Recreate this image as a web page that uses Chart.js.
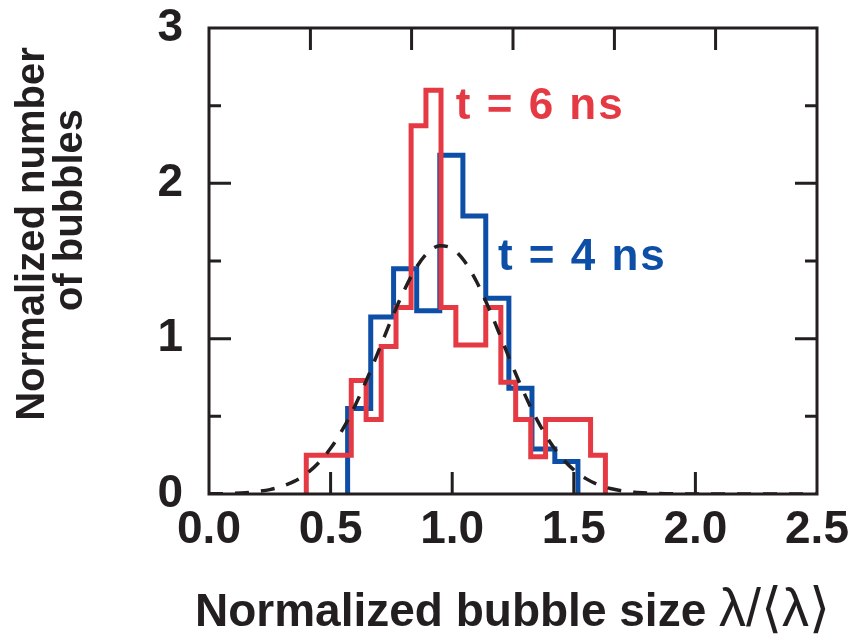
<!DOCTYPE html>
<html>
<head>
<meta charset="utf-8">
<script src="https://cdn.jsdelivr.net/npm/chart.js@4/dist/chart.umd.min.js"></script>
<style>
  html,body{margin:0;padding:0;background:#fff;}
  #wrap{width:865px;height:641px;}
</style>
</head>
<body>
<div id="wrap"><canvas id="bubbles"></canvas></div>
<script>
// histogram at t = 6 ns (bin edges and heights)
const redEdges=[0.400,0.462,0.523,0.585,0.646,0.708,0.769,0.831,0.892,0.954,1.015,1.077,1.138,1.200,1.261,1.323,1.384,1.446,1.507,1.569,1.630];
const redCounts=[0.25,0.25,0.25,0.73,0.48,0.95,1.20,2.37,2.60,1.20,0.96,0.96,1.20,0.72,0.48,0.24,0.48,0.48,0.48,0.25];
// histogram at t = 4 ns
const blueEdges=[0.570,0.665,0.759,0.854,0.949,1.044,1.138,1.233,1.328,1.422,1.517];
const blueCounts=[0.55,1.14,1.45,1.18,2.18,1.79,1.26,0.68,0.29,0.21];
// dashed fit curve
const fitX=[0.00,0.05,0.10,0.15,0.20,0.25,0.30,0.35,0.40,0.45,0.50,0.55,0.60,0.65,0.70,0.75,0.80,0.85,0.90,0.95,
  1.00,1.05,1.10,1.15,1.20,1.25,1.30,1.35,1.40,1.45,1.50,1.55,1.60,1.65,1.70,1.75,1.80,1.85,1.90,2.00,2.10,2.20,2.30,2.40,2.50];
const fitY=[0.001,0.002,0.004,0.008,0.016,0.028,0.049,0.081,0.130,0.200,0.294,0.417,0.567,0.742,0.931,1.124,1.303,1.452,1.555,1.598,
  1.580,1.500,1.368,1.198,1.009,0.816,0.635,0.474,0.340,0.234,0.155,0.099,0.060,0.035,0.020,0.011,0.006,0.003,0.001,0,0,0,0,0,0];
const xTicks=[0.0,0.5,1.0,1.5,2.0,2.5];
const topTicks=[0.417,0.833,1.250,1.667,2.083];
const yTicks=[0,1,2,3];
const yMinor=[0.5,1.5,2.5];
const labels=['t = 6 ns','t = 4 ns'];

const ink='#231f20', red='#e53a43', blue='#0d4fa6';
const sans='"Liberation Sans", Arial, sans-serif';

// turn edges + heights into a closed step outline
function outline(edges,counts){
  let pts=[{x:edges[0],y:0}];
  for(let i=0;i<counts.length;i++) pts.push({x:edges[i],y:counts[i]});
  pts.push({x:edges[edges.length-1],y:counts[counts.length-1]});
  pts.push({x:edges[edges.length-1],y:0});
  return pts;
}

// frame, inward ticks, titles and the two time labels
const frame={
  id:'frame',
  afterDatasetsDraw(chart){
    const c=chart.ctx, a=chart.chartArea, x=chart.scales.x, y=chart.scales.y;
    c.save();
    c.strokeStyle=ink; c.lineWidth=3; c.lineCap='butt';
    c.strokeRect(a.left,a.top,a.right-a.left,a.bottom-a.top);
    c.beginPath();
    xTicks.slice(1,-1).forEach(v=>{
      const px=x.getPixelForValue(v);
      c.moveTo(px,a.bottom); c.lineTo(px,a.bottom-22);
    });
    topTicks.forEach(v=>{
      const px=x.getPixelForValue(v);
      c.moveTo(px,a.top); c.lineTo(px,a.top+22);
    });
    yTicks.slice(1,-1).concat(yMinor).forEach(v=>{
      const py=y.getPixelForValue(v);
      const len=Number.isInteger(v)?22:12;
      c.moveTo(a.left,py); c.lineTo(a.left+len,py);
      c.moveTo(a.right,py); c.lineTo(a.right-len,py);
    });
    c.stroke();

    // time labels
    c.font='bold 44px '+sans;
    c.letterSpacing='2px';
    c.textBaseline='middle'; c.textAlign='left';
    c.fillStyle=red;
    c.fillText(labels[0],x.getPixelForValue(1.015),y.getPixelForValue(2.49));
    c.fillStyle=blue;
    c.fillText(labels[1],x.getPixelForValue(1.188),y.getPixelForValue(1.52));
    c.letterSpacing='0px';

    // x title: bold words, plain symbols
    c.fillStyle=ink;
    c.textBaseline='alphabetic';
    c.font='bold 46px '+sans;
    const words='Normalized bubble size ';
    c.fillText(words,195,626);
    const w=c.measureText(words).width;
    c.font='54px '+sans;
    c.fillText('λ/⟨λ⟩',195+w,626);

    // y title, two lines
    c.font='bold 40px '+sans;
    c.textAlign='center';
    c.save(); c.translate(44,234); c.rotate(-Math.PI/2); c.fillText('Normalized number',0,0); c.restore();
    c.save(); c.translate(82,210); c.rotate(-Math.PI/2); c.fillText('of bubbles',0,0); c.restore();
    c.restore();
  }
};

const font={family:sans,weight:'bold'};
// keep the tick labels from pushing the plot box around
function noPad(s){s.paddingTop=0;s.paddingBottom=0;s.paddingLeft=0;s.paddingRight=0;}

new Chart(document.getElementById('bubbles'),{
  type:'line',
  data:{datasets:[
    {data:fitX.map((v,i)=>({x:v,y:fitY[i]})),borderColor:ink,borderWidth:3.5,borderDash:[14,12],pointRadius:0,cubicInterpolationMode:'monotone',order:0},
    {data:outline(redEdges,redCounts),stepped:'before',borderColor:red,borderWidth:5,pointRadius:0,order:1},
    {data:outline(blueEdges,blueCounts),stepped:'before',borderColor:blue,borderWidth:5,pointRadius:0,order:2}
  ]},
  options:{
    responsive:true,maintainAspectRatio:false,animation:false,
    layout:{autoPadding:false,padding:{top:28,right:48,left:0,bottom:0}},
    plugins:{legend:{display:false},tooltip:{enabled:false}},
    scales:{
      x:{type:'linear',min:0,max:2.5,
        grid:{display:false,drawTicks:false},border:{display:false},
        afterBuildTicks:s=>{s.ticks=xTicks.map(v=>({value:v}));},
        ticks:{padding:9,color:ink,font:{...font,size:46},maxRotation:0,callback:v=>v.toFixed(1)},
        afterFit:s=>{s.height=147;noPad(s);}
      },
      y:{min:0,max:3,
        grid:{display:false,drawTicks:false},border:{display:false},
        afterBuildTicks:s=>{s.ticks=yTicks.map(v=>({value:v}));},
        ticks:{padding:26,color:ink,font:{...font,size:46}},
        afterFit:s=>{s.width=209;noPad(s);}
      }
    }
  },
  plugins:[frame]
});
</script>
</body>
</html>
